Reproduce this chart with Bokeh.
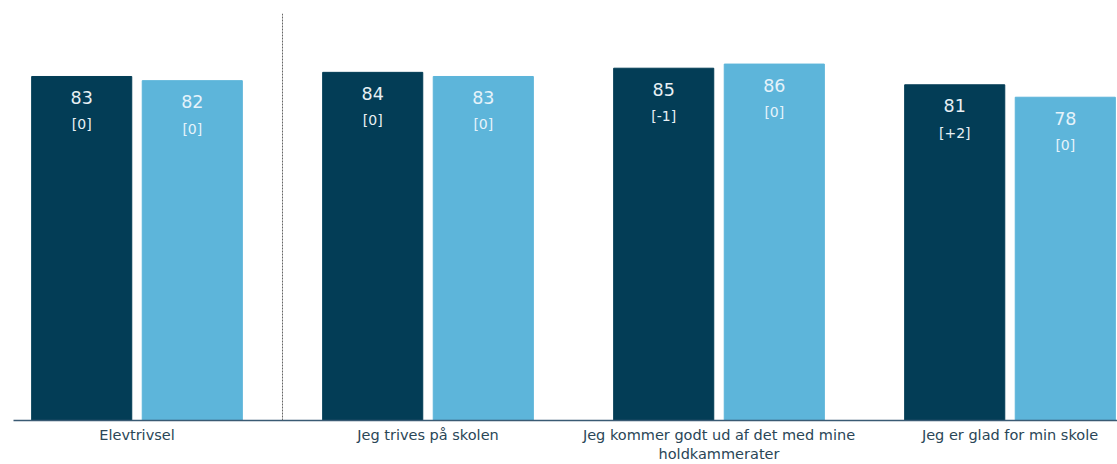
from bokeh.plotting import figure
from bokeh.models import ColumnDataSource, Range1d, FixedTicker, Span
from bokeh.core.properties import value
from bokeh.embed import file_html
from bokeh.resources import INLINE

categories = ["Elevtrivsel", "Jeg trives på skolen",
              "Jeg kommer godt ud af det med mine\nholdkammerater",
              "Jeg er glad for min skole"]
dark_values = [83, 84, 85, 81]
light_values = [82, 83, 86, 78]
dark_diffs = ["[0]", "[0]", "[-1]", "[+2]"]
light_diffs = ["[0]", "[0]", "[0]", "[0]"]

DARK = "#033d56"
LIGHT = "#5db5da"
FONT = "DejaVu Sans"

idx = list(range(len(categories)))
dodge_w = 0.19
bar_w = 0.344

dark_src = ColumnDataSource(dict(x=[i - dodge_w for i in idx], top=dark_values,
                                 lab=[str(v) for v in dark_values], diff=dark_diffs))
light_src = ColumnDataSource(dict(x=[i + dodge_w for i in idx], top=light_values,
                                  lab=[str(v) for v in light_values], diff=light_diffs))

p = figure(width=1117, height=464, output_backend="svg", toolbar_location=None,
           x_range=Range1d(-0.4244, 3.3694), y_range=Range1d(0, 98.2),
           min_border_left=13, min_border_right=0, min_border_top=13, min_border_bottom=43)
p.outline_line_color = None
p.xgrid.visible = False
p.ygrid.visible = False
p.yaxis.visible = False
p.background_fill_color = "white"
p.border_fill_color = "white"

p.vbar(x="x", top="top", width=bar_w, bottom=0, source=dark_src,
       fill_color=DARK, line_color=DARK)
p.vbar(x="x", top="top", width=bar_w, bottom=0, source=light_src,
       fill_color=LIGHT, line_color=LIGHT)

for src, col in ((dark_src, "#e8f0f4"), (light_src, "#e6f3fa")):
    p.text(x="x", y="top", text="lab", source=src, y_offset=21,
           text_align="center", text_baseline="middle",
           text_font=value(FONT), text_font_size="17.5px", text_color=col)
    p.text(x="x", y="top", text="diff", source=src, y_offset=48,
           text_align="center", text_baseline="middle",
           text_font=value(FONT), text_font_size="14px", text_color=col)

p.add_layout(Span(location=0.5, dimension="height", line_color="#666666",
                  line_width=1, line_dash="2 1"))

ax = p.xaxis[0]
ax.ticker = FixedTicker(ticks=idx)
ax.major_label_overrides = {i: c for i, c in zip(idx, categories)}
ax.major_tick_line_color = None
ax.major_tick_out = 0
ax.major_tick_in = 0
ax.minor_tick_line_color = None
ax.axis_line_color = "#3a5a73"
ax.axis_line_width = 1.5
ax.major_label_text_font = FONT
ax.major_label_text_font_size = "14.5px"
ax.major_label_text_line_height = 1.2
ax.major_label_text_color = "#2a4657"
ax.major_label_standoff = 6

open("out.html", "w").write(file_html(p, INLINE))
